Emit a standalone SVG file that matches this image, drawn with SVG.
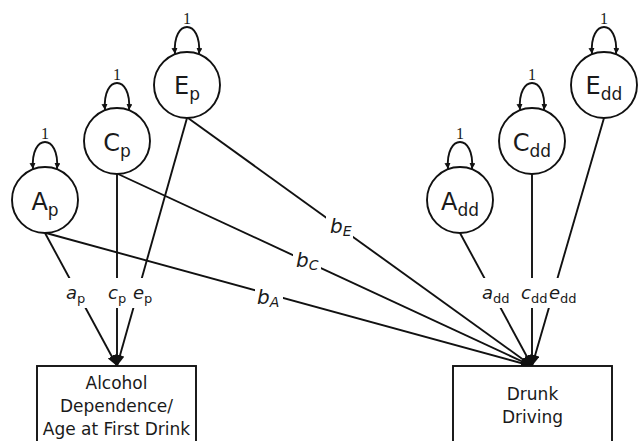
<svg xmlns="http://www.w3.org/2000/svg" width="638" height="441" viewBox="0 0 638 441">
<defs>
<marker id="arr" markerUnits="userSpaceOnUse" markerWidth="12" markerHeight="10" refX="11" refY="4.5" orient="auto">
<path d="M0,0 L11,4.5 L0,9 z" fill="#111"/>
</marker>
<marker id="sarr" markerUnits="userSpaceOnUse" markerWidth="8" markerHeight="7" refX="6" refY="3" orient="auto-start-reverse">
<path d="M0,0 L6,3 L0,6 z" fill="#111"/>
</marker>
<style>
.node{fill:#fff;stroke:#111;stroke-width:1.9}
.ln{fill:none;stroke:#111;stroke-width:1.9}
.loop{fill:none;stroke:#111;stroke-width:1.9;marker-start:url(#sarr);marker-end:url(#sarr)}
.lbl{font-family:"DejaVu Sans",Verdana,sans-serif;fill:#1a1a1a}
.one{font-family:"Liberation Serif",serif;font-size:16px;fill:#1a1a1a;text-anchor:middle}
.coef{font-family:"DejaVu Sans",sans-serif;font-style:italic;font-size:18px;fill:#1a1a1a}
.bcoef{font-family:"DejaVu Sans",sans-serif;font-style:italic;font-size:20px;fill:#1a1a1a}
.sub{font-style:normal;font-size:13px}
.bg{fill:#fff;stroke:none}
</style>
</defs>
<g id="connectors">
<line class="ln" x1="45" y1="233" x2="117" y2="366" marker-end="url(#arr)"/>
<line class="ln" x1="117" y1="174" x2="117" y2="366" marker-end="url(#arr)"/>
<line class="ln" x1="187" y1="118" x2="117" y2="366" marker-end="url(#arr)"/>
<line class="ln" x1="46" y1="233" x2="532" y2="366" marker-end="url(#arr)"/>
<line class="ln" x1="118" y1="174" x2="532" y2="366" marker-end="url(#arr)"/>
<line class="ln" x1="188" y1="118" x2="532" y2="366" marker-end="url(#arr)"/>
<line class="ln" x1="460" y1="233" x2="532" y2="366" marker-end="url(#arr)"/>
<line class="ln" x1="532" y1="174" x2="532" y2="366" marker-end="url(#arr)"/>
<line class="ln" x1="604" y1="118" x2="532" y2="366" marker-end="url(#arr)"/>
<path class="loop" d="M33,169 C30,133 60,133 57,169"/>
<path class="loop" d="M105,110 C102,74 132,74 129,110"/>
<path class="loop" d="M175,54 C172,18 202,18 199,54"/>
<path class="loop" d="M448,169 C445,133 475,133 472,169"/>
<path class="loop" d="M520,110 C517,74 547,74 544,110"/>
<path class="loop" d="M592,54 C589,18 619,18 616,54"/>
</g>
<g id="path-labels">
<rect class="bg" x="64" y="278" width="90" height="30"/>
<rect class="bg" x="479" y="278" width="98" height="30"/>
<rect class="bg" x="255" y="284" width="28" height="28"/>
<rect class="bg" x="293" y="247" width="28" height="30"/>
<rect class="bg" x="326" y="214" width="27" height="28"/>
<text class="coef" x="66" y="299">a<tspan class="sub" dy="4">p</tspan></text>
<text class="coef" x="108" y="299">c<tspan class="sub" dy="4">p</tspan></text>
<text class="coef" x="133" y="299">e<tspan class="sub" dy="4">p</tspan></text>
<text class="coef" x="482" y="299">a<tspan class="sub" dy="4">dd</tspan></text>
<text class="coef" x="521" y="299">c<tspan class="sub" dy="4">dd</tspan></text>
<text class="coef" x="549" y="299">e<tspan class="sub" dy="4">dd</tspan></text>
<text class="bcoef" x="257" y="304">b<tspan font-size="14" dy="3">A</tspan></text>
<text class="bcoef" x="296" y="267">b<tspan font-size="14" dy="3">C</tspan></text>
<text class="bcoef" x="330" y="233">b<tspan font-size="14" dy="3">E</tspan></text>
<text class="one" x="45" y="139">1</text>
<text class="one" x="117" y="80">1</text>
<text class="one" x="187" y="24">1</text>
<text class="one" x="460" y="139">1</text>
<text class="one" x="532" y="80">1</text>
<text class="one" x="604" y="24">1</text>
</g>
<g id="Ap">
<circle class="node" cx="45" cy="200" r="33"/>
<text class="lbl" x="45" y="210" font-size="24" text-anchor="middle">A<tspan font-size="17" dy="6">p</tspan></text>
</g>
<g id="Cp">
<circle class="node" cx="117" cy="141" r="33"/>
<text class="lbl" x="117" y="151" font-size="24" text-anchor="middle">C<tspan font-size="17" dy="6">p</tspan></text>
</g>
<g id="Ep">
<circle class="node" cx="187" cy="85" r="33"/>
<text class="lbl" x="187" y="94" font-size="24" text-anchor="middle">E<tspan font-size="17" dy="6">p</tspan></text>
</g>
<g id="Add">
<circle class="node" cx="460" cy="200" r="33"/>
<text class="lbl" x="460" y="210" font-size="24" text-anchor="middle">A<tspan font-size="17" dy="6">dd</tspan></text>
</g>
<g id="Cdd">
<circle class="node" cx="532" cy="141" r="33"/>
<text class="lbl" x="532" y="151" font-size="24" text-anchor="middle">C<tspan font-size="17" dy="6">dd</tspan></text>
</g>
<g id="Edd">
<circle class="node" cx="604" cy="85" r="33"/>
<text class="lbl" x="604" y="94" font-size="24" text-anchor="middle">E<tspan font-size="17" dy="6">dd</tspan></text>
</g>
<g id="AlcoholBox">
<rect class="node" x="37" y="366" width="159" height="90"/>
<text class="lbl" font-size="17" text-anchor="middle"><tspan x="116.5" y="389">Alcohol</tspan><tspan x="116.5" y="412">Dependence/</tspan><tspan x="116.5" y="435">Age at First Drink</tspan></text>
</g>
<g id="DrunkBox">
<rect class="node" x="453" y="366" width="159" height="90"/>
<text class="lbl" font-size="17" text-anchor="middle"><tspan x="532.5" y="400">Drunk</tspan><tspan x="532.5" y="423">Driving</tspan></text>
</g>
</svg>
